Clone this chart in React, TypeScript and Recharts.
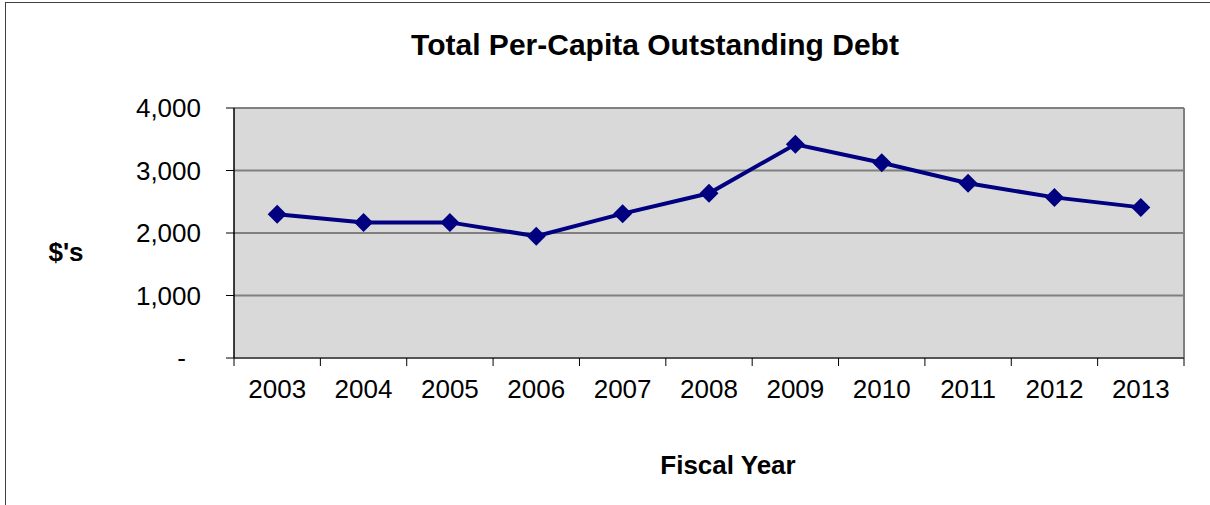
import { LineChart, Line, XAxis, YAxis, CartesianGrid } from "recharts";

const years = ["2003", "2004", "2005", "2006", "2007", "2008", "2009", "2010", "2011", "2012", "2013"];
const debtPerCapita = [2300, 2170, 2170, 1950, 2310, 2635, 3420, 3125, 2795, 2570, 2410];
const yTicks = [0, 1000, 2000, 3000, 4000];

const data = years.map((year, i) => ({ year, debt: debtPerCapita[i] }));

const FONT = "'Liberation Sans', Arial, sans-serif";
const NAVY = "#000080";

function YearTick(props: any) {
  const { x, y, payload, index } = props;
  const half = payload?.offset ?? 43.2;
  return (
    <g>
      <line x1={x - half} y1={y} x2={x - half} y2={y + 8} stroke="#000" strokeWidth={1} />
      {index === years.length - 1 && (
        <line x1={x + half} y1={y} x2={x + half} y2={y + 8} stroke="#000" strokeWidth={1} />
      )}
      <text x={x} y={y + 31} dy="0.355em" textAnchor="middle" fontSize={26} fontFamily={FONT} fill="#000">
        {payload.value}
      </text>
    </g>
  );
}

function ValueTick(props: any) {
  const { x, y, payload } = props;
  const v = payload.value as number;
  const label = v === 0 ? "-" : v.toLocaleString("en-US");
  return (
    <text x={v === 0 ? x - 15 : x} y={y} dy="0.355em" textAnchor="end" fontSize={26} fontFamily={FONT} fill="#000">
      {label}
    </text>
  );
}

function DiamondDot(props: any) {
  const { cx, cy } = props;
  if (cx == null || cy == null) return null;
  const r = 9.5;
  return <path d={`M${cx},${cy - r} L${cx + r},${cy} L${cx},${cy + r} L${cx - r},${cy} Z`} fill={NAVY} />;
}

export default function App() {
  return (
    <div
      style={{
        position: "absolute",
        left: 0,
        top: 0,
        width: 1210,
        height: 505,
        overflow: "hidden",
        background: "#fff",
        fontFamily: FONT,
      }}
    >
      <div
        style={{
          position: "absolute",
          left: 5,
          top: 2,
          width: 1300,
          height: 600,
          border: "1px solid #404040",
        }}
      />
      <div
        style={{
          position: "absolute",
          left: 655,
          top: 45,
          transform: "translate(-50%, -50%)",
          whiteSpace: "nowrap",
          fontSize: 30,
          fontWeight: "bold",
          color: "#000",
        }}
      >
        Total Per-Capita Outstanding Debt
      </div>
      <div style={{ position: "absolute", left: 0, top: 0 }}>
        <LineChart width={1210} height={505} data={data} margin={{ top: 108, right: 26, bottom: 0, left: 0 }}>
          <CartesianGrid
            fill="#D9D9D9"
            stroke="#808080"
            strokeWidth={2}
            verticalCoordinatesGenerator={({ offset }: any) => [offset.left + offset.width]}
          />
          <XAxis
            dataKey="year"
            scale="band"
            height={147}
            axisLine={{ stroke: "#555", strokeWidth: 2 }}
            tickLine={false}
            tickSize={0}
            tickMargin={0}
            interval={0}
            tick={<YearTick />}
            label={{
              content: ({ viewBox }: any) => (
                <text
                  x={viewBox.x + viewBox.width / 2 + 19}
                  y={viewBox.y + 107}
                  dy="0.355em"
                  textAnchor="middle"
                  fontSize={26}
                  fontWeight="bold"
                  fontFamily={FONT}
                  fill="#000"
                >
                  Fiscal Year
                </text>
              ),
            }}
          />
          <YAxis
            width={234}
            domain={[0, 4000]}
            ticks={yTicks}
            interval={0}
            axisLine={{ stroke: "#000", strokeWidth: 1.5 }}
            tickLine={{ stroke: "#000" }}
            tickSize={8}
            tickMargin={25}
            tick={<ValueTick />}
            label={{
              content: ({ viewBox }: any) => (
                <text
                  x={66}
                  y={viewBox.y + 144}
                  dy="0.355em"
                  textAnchor="middle"
                  fontSize={26}
                  fontWeight="bold"
                  fontFamily={FONT}
                  fill="#000"
                >
                  $'s
                </text>
              ),
            }}
          />
          <Line
            type="linear"
            dataKey="debt"
            stroke={NAVY}
            strokeWidth={4}
            dot={<DiamondDot />}
            activeDot={false}
            isAnimationActive={false}
          />
        </LineChart>
      </div>
    </div>
  );
}
